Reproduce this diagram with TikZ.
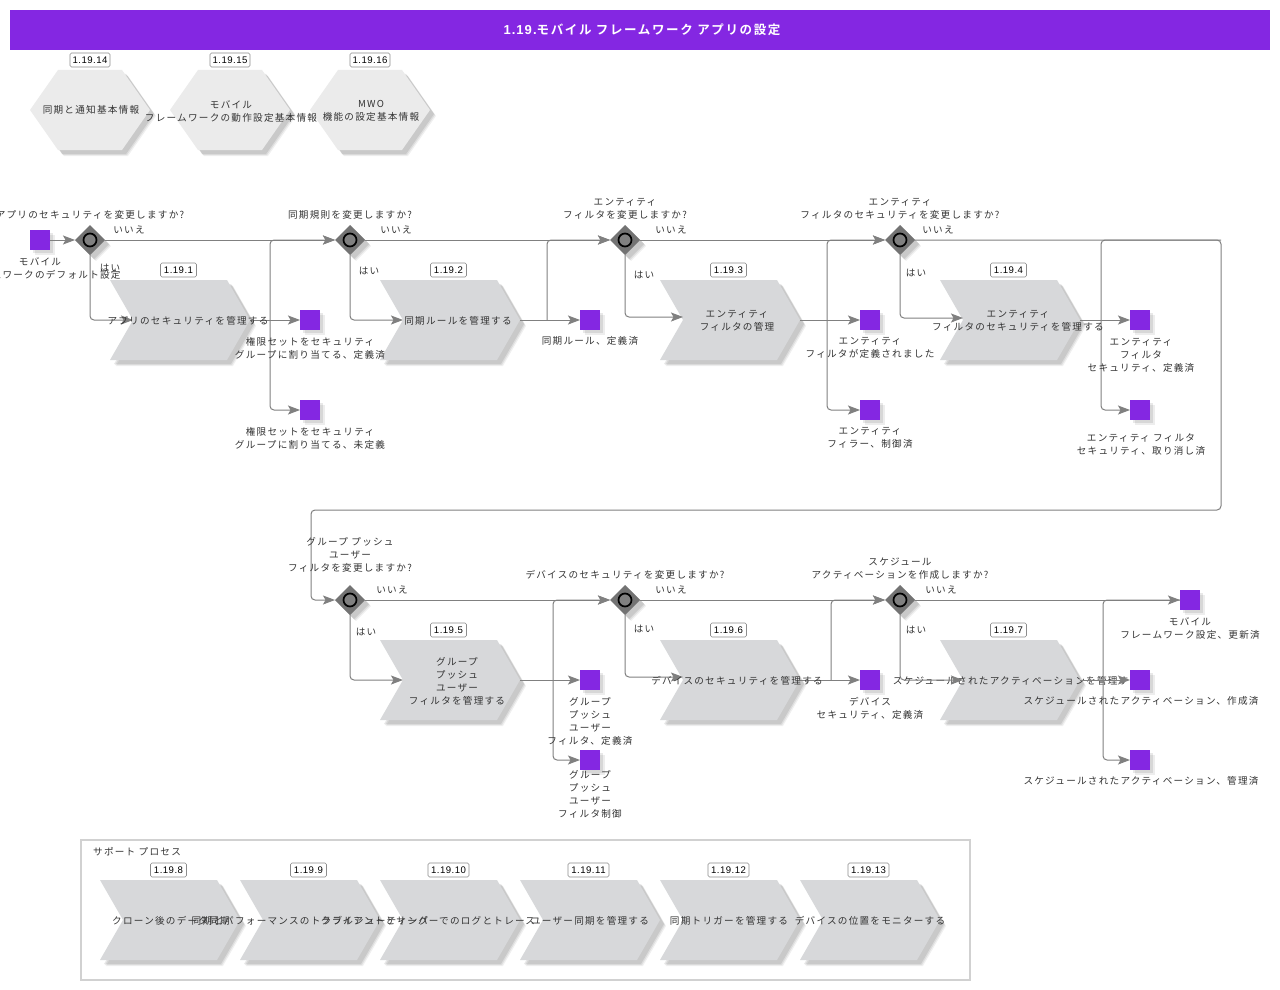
\documentclass[tikz,border=0pt]{standalone}
\usepackage{fontspec}
\setmainfont{Liberation Sans}
\newfontfamily\jp[LetterSpace=13]{Noto Sans CJK JP}
\newfontfamily\jpb[LetterSpace=13]{Noto Sans CJK JP Bold}
\newfontfamily\idf[LetterSpace=5]{Liberation Sans}
\newfontfamily\ttlf[LetterSpace=8]{Liberation Sans Bold}
\usetikzlibrary{arrows.meta,shapes.geometric,calc}
\definecolor{vio}{HTML}{8427E2}
\definecolor{lne}{HTML}{808080}
\definecolor{chv}{HTML}{D7D8DA}
\definecolor{hxf}{HTML}{EBEBEB}
\definecolor{txt}{HTML}{333333}
\tikzset{
 x=1pt,y=-1pt,
 txtnode/.style={font=\jp\fontsize{9.6}{13}\selectfont,text=txt,align=center,inner sep=0pt},
 conn/.style={draw=lne,line width=1pt,rounded corners=4pt,-{Stealth[length=12pt,width=9pt,inset=2.5pt]}},
 plain/.style={draw=lne,line width=1pt,rounded corners=4pt},
 idbox/.style={draw=black!45,fill=white,rounded corners=1.5pt,line width=.6pt,font=\idf\fontsize{9.6}{11}\selectfont,text=black,inner sep=0pt,minimum height=14pt,text width=#1,align=center},
 idbox/.default=37pt,
 sq/.style={fill=vio,minimum size=20pt,inner sep=0pt,outer sep=0pt},
 gate/.style={diamond,fill=black!55,minimum width=30pt,minimum height=30pt,inner sep=0pt,outer sep=0pt},
}
% soft offset shadow for any closed path given as coordinates
\newcommand{\softshadow}[1]{%
 \fill[black,opacity=.06,shift={(6,6)}] #1;
 \fill[black,opacity=.08,shift={(5,5)}] #1;
 \fill[black,opacity=.09,shift={(4,4)}] #1;
}
% \chev{name}{x}{y}{id}{idwidth}
\newcommand{\chev}[5]{%
 \begin{scope}[shift={(#2,#3)}]
 \softshadow{(0,0)--(117,0)--(140,40)--(117,80)--(0,80)--(23,40)--cycle}
 \fill[chv] (0,0)--(117,0)--(140,40)--(117,80)--(0,80)--(23,40)--cycle;
 \coordinate (#1in) at (23,40);
 \coordinate (#1out) at (140,40);
 \node[idbox=#5] (#1id) at (68.5,-10) {#4};
 \end{scope}}
\newcommand{\hexa}[4]{%
 \begin{scope}[shift={(#2,70)}]
 \softshadow{(0,40)--(28,0)--(92,0)--(120,40)--(92,80)--(28,80)--cycle}
 \fill[hxf] (0,40)--(28,0)--(92,0)--(120,40)--(92,80)--(28,80)--cycle;
 \node[idbox=#4] (#1id) at (60,-10) {#3};
 \end{scope}}
\newcommand{\sqr}[3]{%
 \fill[black,opacity=.07] (#2-10+5,#3-10+5) rectangle (#2+10+5,#3+10+5);
 \fill[black,opacity=.09] (#2-10+3,#3-10+3) rectangle (#2+10+3,#3+10+3);
 \node[sq] (#1) at (#2,#3) {};}
\newcommand{\gat}[3]{%
 \softshadow{(#2-15,#3)--(#2,#3-15)--(#2+15,#3)--(#2,#3+15)--cycle}
 \node[gate] (#1) at (#2,#3) {};
 \draw[black,line width=1.7pt,fill=black!50] (#2,#3) circle (6.5pt);}
\newcommand{\lab}[3]{\node[txtnode] at (#1,#2+1) {#3};}
\begin{document}
\begin{tikzpicture}
\useasboundingbox (0,0) rectangle (1280,990);
\clip (0,0) rectangle (1280,990);
\fill[white] (0,0) rectangle (1280,990);
\node[fill=vio,minimum width=1260pt,minimum height=40pt,inner sep=0pt] (title) at (640,30) {};
% frame
\node[draw=black!18,line width=1.6pt,minimum width=889pt,minimum height=140pt,inner sep=0pt] (support) at (525.5,910) {};
% hexagons
\hexa{ha}{30}{1.19.14}{40pt}
\hexa{hb}{170}{1.19.15}{40pt}
\hexa{hc}{310}{1.19.16}{40pt}
% chevrons
\chev{a}{110}{280}{1.19.1}{36pt}
\chev{b}{380}{280}{1.19.2}{36pt}
\chev{c}{660}{280}{1.19.3}{36pt}
\chev{d}{940}{280}{1.19.4}{36pt}
\chev{e}{380}{640}{1.19.5}{36pt}
\chev{f}{660}{640}{1.19.6}{36pt}
\chev{g}{940}{640}{1.19.7}{36pt}
\chev{s}{100}{880}{1.19.8}{36pt}
\chev{t}{240}{880}{1.19.9}{36pt}
\chev{u}{380}{880}{1.19.10}{41pt}
\chev{v}{520}{880}{1.19.11}{41pt}
\chev{w}{660}{880}{1.19.12}{41pt}
\chev{z}{800}{880}{1.19.13}{41pt}
% this long label runs behind the event square at its right
\lab{1016}{680}{スケジュールされたアクティベーションを管理する}
% events
\sqr{s0}{40}{240}
\sqr{s1}{310}{320}
\sqr{s2}{310}{410}
\sqr{s3}{590}{320}
\sqr{s4}{870}{320}
\sqr{s5}{870}{410}
\sqr{s6}{1140}{320}
\sqr{s7}{1140}{410}
\sqr{s8}{590}{680}
\sqr{s9}{590}{760}
\sqr{s10}{870}{680}
\sqr{s11}{1190}{600}
\sqr{s12}{1140}{680}
\sqr{s13}{1140}{760}
% gateways
\gat{g1}{90}{240}
\gat{g2}{350}{240}
\gat{g3}{625}{240}
\gat{g4}{900}{240}
\gat{g5}{350}{600}
\gat{g6}{625}{600}
\gat{g7}{900}{600}
% branch coordinates
\coordinate (ba) at (270,320);
\coordinate (bb) at (547,320);
\coordinate (bc) at (827,320);
\coordinate (bd) at (1101,320);
\coordinate (be) at (553,680);
\coordinate (bf) at (831,680);
\coordinate (bg) at (1103,680);
\coordinate (lp0) at (1221,240);
\coordinate (lp1) at (1221,510);
\coordinate (lp2) at (311,510);
% connectors
\draw[conn] (s0) -- (g1.west);
\draw[conn] (g1.east) -- (g2.west);
\draw[conn] (g2.east) -- (g3.west);
\draw[conn] (g3.east) -- (g4.west);
\draw[conn] (g1.south) |- (ain);
\draw[conn] (g2.south) |- (bin);
\coordinate (cin2) at ($(cin)+(0,-3)$);
\draw[conn] (g3.south) |- (cin2);
\coordinate (din2) at ($(din)+(0,-2)$);
\draw[conn] (g4.south) |- (din2);
\draw[conn] (aout) -- (s1.west);
\draw[conn] (bout) -- (s3.west);
\draw[conn] (cout) -- (s4.west);
\draw[conn] (dout) -- (s6.west);
\draw[conn] (ba) |- (g2.west);
\draw[conn] (ba) |- (s2.west);
\draw[conn] (bb) |- (g3.west);
\draw[conn] (bc) |- (g4.west);
\draw[conn] (bc) |- (s5.west);
\draw[conn] (bd) |- (s7.west);
\draw[plain] (bd) |- (lp0);
\draw[conn] (g4.east) -- (lp0) -- (lp1) -- (lp2) |- (g5.west);
\draw[conn] (g5.east) -- (g6.west);
\draw[conn] (g6.east) -- (g7.west);
\draw[conn] (g7.east) -- (s11.west);
\draw[conn] (g5.south) |- (ein);
\coordinate (fin2) at ($(fin)+(0,-3)$);
\draw[conn] (g6.south) |- (fin2);
\draw[conn] (g7.south) |- (gin);
\draw[conn] (eout) -- (s8.west);
\draw[conn] (fout) -- (s10.west);
\draw[conn] (gout) -- (s12.west);
\draw[conn] (be) |- (g6.west);
\draw[conn] (be) |- (s9.west);
\draw[conn] (bf) |- (g7.west);
\draw[plain] (bg) |- (s11.west);
\draw[conn] (bg) |- (s13.west);
% title
\node[font=\ttlf\fontsize{13}{14}\selectfont,text=white,inner sep=0pt] at (642,30) {1.19.{\jpb\fontsize{12.5}{14}\selectfont モバイル フレームワーク アプリの設定}};
% hexagon text
\lab{91}{109}{同期と通知基本情報}
\lab{231}{110}{モバイル\\フレームワークの動作設定基本情報}
\lab{371}{110}{MWO\\機能の設定基本情報}
% chevron text
\lab{188}{320}{アプリのセキュリティを管理する}
\lab{458}{320}{同期ルールを管理する}
\lab{737}{320}{エンティティ\\フィルタの管理}
\lab{1018}{320}{エンティティ\\フィルタのセキュリティを管理する}
\lab{457}{680}{グループ\\プッシュ\\ユーザー\\フィルタを管理する}
\lab{737}{680}{デバイスのセキュリティを管理する}
\lab{171}{920}{クローン後のデータ同期}
\lab{310}{920}{同期とパフォーマンスのトラブルシューティング}
\lab{428}{920}{クライアントとサーバーでのログとトレース}
\lab{590}{920}{ユーザー同期を管理する}
\lab{729}{920}{同期トリガーを管理する}
\lab{870}{920}{デバイスの位置をモニターする}
% gateway questions
\lab{90}{214}{アプリのセキュリティを変更しますか?}
\lab{350}{214}{同期規則を変更しますか?}
\lab{625}{208}{エンティティ\\フィルタを変更しますか?}
\lab{900}{208}{エンティティ\\フィルタのセキュリティを変更しますか?}
\lab{350}{554}{グループ プッシュ\\ユーザー\\フィルタを変更しますか?}
\lab{625}{574}{デバイスのセキュリティを変更しますか?}
\lab{900}{568}{スケジュール\\アクティベーションを作成しますか?}
% yes/no
\lab{129}{229}{いいえ}
\lab{396}{229}{いいえ}
\lab{671}{229}{いいえ}
\lab{938}{229}{いいえ}
\lab{392}{589}{いいえ}
\lab{671}{589}{いいえ}
\lab{941}{589}{いいえ}
\lab{110}{267}{はい}
\lab{369}{270}{はい}
\lab{644}{274}{はい}
\lab{916}{272}{はい}
\lab{366}{631}{はい}
\lab{644}{628}{はい}
\lab{916}{629}{はい}
% event text
\lab{40}{267}{モバイル\\フレームワークのデフォルト設定}
\lab{310}{347}{権限セットをセキュリティ\\グループに割り当てる、定義済}
\lab{310}{437}{権限セットをセキュリティ\\グループに割り当てる、未定義}
\lab{590}{340}{同期ルール、定義済}
\lab{870}{347}{エンティティ\\フィルタが定義されました}
\lab{870}{437}{エンティティ\\フィラー、制御済}
\lab{1141}{354}{エンティティ\\フィルタ\\セキュリティ、定義済}
\lab{1141}{444}{エンティティ フィルタ\\セキュリティ、取り消し済}
\lab{590}{720}{グループ\\プッシュ\\ユーザー\\フィルタ、定義済}
\lab{590}{793}{グループ\\プッシュ\\ユーザー\\フィルタ制御}
\lab{870}{707}{デバイス\\セキュリティ、定義済}
\lab{1190}{627}{モバイル\\フレームワーク設定、更新済}
\lab{1141}{700}{スケジュールされたアクティベーション、作成済}
\lab{1141}{780}{スケジュールされたアクティベーション、管理済}
\node[txtnode,anchor=west] at (93,852) {サポート プロセス};
\end{tikzpicture}
\end{document}
